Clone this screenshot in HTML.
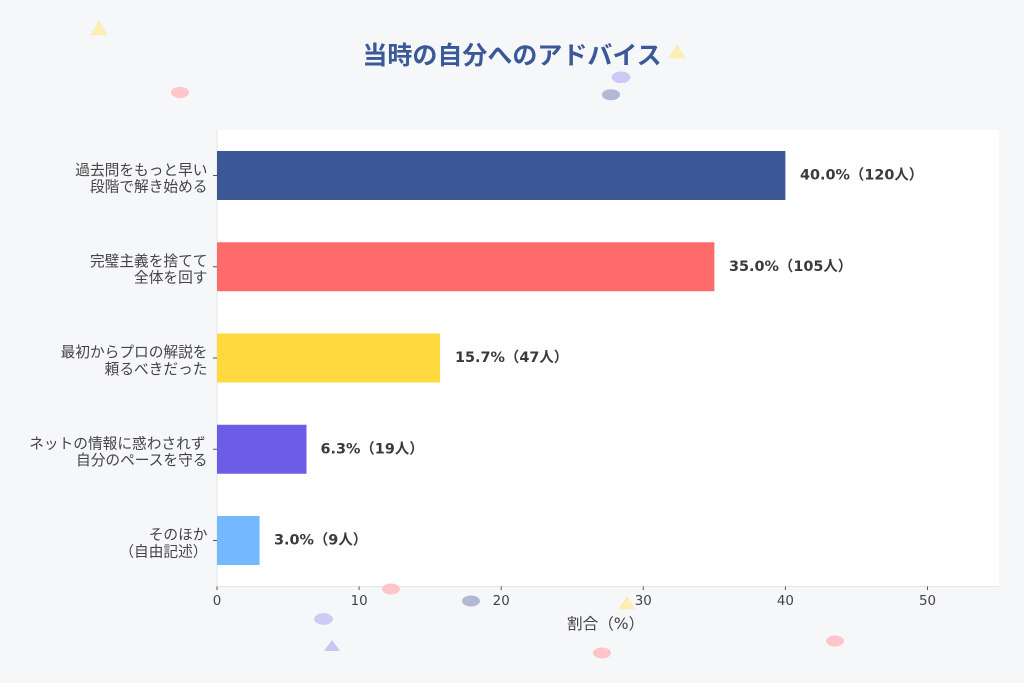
<!DOCTYPE html>
<html><head><meta charset="utf-8"><style>
html,body{margin:0;padding:0;background:#f6f7f8;}
svg{display:block;}
</style></head><body>
<svg width="1024" height="683" viewBox="0 0 1024 683" xmlns="http://www.w3.org/2000/svg">
<rect x="0" y="0" width="1024" height="683" fill="#f6f7f8"/>
<!-- plot area -->
<rect x="217" y="130" width="782" height="456" fill="#ffffff"/>
<line x1="217" y1="130" x2="217" y2="586.5" stroke="#e2e4e8" stroke-width="1"/>
<line x1="217" y1="586.5" x2="999" y2="586.5" stroke="#e2e4e8" stroke-width="1"/>

<!-- title -->
<text x="512" y="56" text-anchor="middle" dominant-baseline="central" font-family="'Liberation Sans','Noto Sans CJK JP',sans-serif" font-weight="bold" font-size="25" fill="#3b5998">当時の自分へのアドバイス</text>

<!-- bars -->
<rect x="217" y="151" width="568.4" height="49" fill="#3b5796"/>
<rect x="217" y="242.25" width="497.4" height="49" fill="#ff6b6b"/>
<rect x="217" y="333.5" width="223.1" height="49" fill="#ffd93d"/>
<rect x="217" y="424.75" width="89.5" height="49" fill="#6c5ce7"/>
<rect x="217" y="516" width="42.6" height="49" fill="#74b9ff"/>

<!-- value labels -->
<g font-family="'DejaVu Sans','Noto Sans CJK JP',sans-serif" font-weight="bold" font-size="14.4" fill="#3a3a3a" dominant-baseline="central">
<text x="800" y="175.5">40.0%（120人）</text>
<text x="729" y="266.75">35.0%（105人）</text>
<text x="455" y="358">15.7%（47人）</text>
<text x="320.5" y="449.25">6.3%（19人）</text>
<text x="274" y="540.5">3.0%（9人）</text>
</g>

<!-- y ticks -->
<g stroke="#555" stroke-width="1">
<line x1="213" y1="175.5" x2="217" y2="175.5"/>
<line x1="213" y1="266.75" x2="217" y2="266.75"/>
<line x1="213" y1="358" x2="217" y2="358"/>
<line x1="213" y1="449.25" x2="217" y2="449.25"/>
<line x1="213" y1="540.5" x2="217" y2="540.5"/>
</g>
<g font-family="'DejaVu Sans','Noto Sans CJK JP',sans-serif" font-size="14.7" fill="#444" text-anchor="end" dominant-baseline="central">
<text x="207.5" y="170.3">過去問をもっと早い</text>
<text x="207.5" y="186.9">段階で解き始める</text>
<text x="207.5" y="261.5">完璧主義を捨てて</text>
<text x="207.5" y="278.1">全体を回す</text>
<text x="207.5" y="352.7">最初からプロの解説を</text>
<text x="207.5" y="369.3">頼るべきだった</text>
<text x="205.5" y="444">ネットの情報に惑わされず</text>
<text x="207.5" y="460.6">自分のペースを守る</text>
<text x="207.5" y="535.2">そのほか</text>
<text x="207.5" y="551.8">（自由記述）</text>
</g>

<!-- x ticks -->
<g stroke="#555" stroke-width="1">
<line x1="217" y1="586.5" x2="217" y2="590"/>
<line x1="359.1" y1="586.5" x2="359.1" y2="590"/>
<line x1="501.2" y1="586.5" x2="501.2" y2="590"/>
<line x1="643.3" y1="586.5" x2="643.3" y2="590"/>
<line x1="785.4" y1="586.5" x2="785.4" y2="590"/>
<line x1="927.5" y1="586.5" x2="927.5" y2="590"/>
</g>
<g font-family="'DejaVu Sans','Noto Sans CJK JP',sans-serif" font-size="13.4" fill="#444" text-anchor="middle" dominant-baseline="central">
<text x="217" y="601.7">0</text>
<text x="359.1" y="601.7">10</text>
<text x="501.2" y="601.7">20</text>
<text x="643.3" y="601.7">30</text>
<text x="785.4" y="601.7">40</text>
<text x="927.5" y="601.7">50</text>
</g>
<text x="567" y="624" dominant-baseline="central" font-family="'DejaVu Sans','Noto Sans CJK JP',sans-serif" font-size="15.6" fill="#444">割合（%）</text>

<!-- decorations -->
<polygon points="99,21 107,35 91,35" fill="#fdeeb3" stroke="#f3dc8a" stroke-width="0.6" stroke-dasharray="1,1.5"/>
<polygon points="677,45 685,58 669,58" fill="#fdeeb3" stroke="#f3dc8a" stroke-width="0.6" stroke-dasharray="1,1.5"/>
<ellipse cx="180" cy="92.5" rx="9" ry="5.5" fill="#ffc5c8"/>
<ellipse cx="621" cy="77.3" rx="9" ry="5.5" fill="#cdcaf5" stroke="#a9a3ee" stroke-width="0.6" stroke-dasharray="1,1.5"/>
<ellipse cx="611" cy="94.7" rx="9" ry="5.5" fill="#b1b9d5"/>
<ellipse cx="391" cy="589" rx="9" ry="5.5" fill="#ffc5c8"/>
<ellipse cx="471" cy="601" rx="9" ry="5.5" fill="#b1b9d5"/>
<polygon points="627,597 635,609 619,609" fill="#fdeeb3" stroke="#f3dc8a" stroke-width="0.6" stroke-dasharray="1,1.5"/>
<ellipse cx="323.5" cy="619" rx="9" ry="5.5" fill="#cdcaf5" stroke="#a9a3ee" stroke-width="0.6" stroke-dasharray="1,1.5"/>
<polygon points="332,640 340,651 324,651" fill="#c9c6f3"/>
<ellipse cx="602" cy="653" rx="9" ry="5.5" fill="#ffc5c8"/>
<ellipse cx="835" cy="641" rx="9" ry="5.5" fill="#ffc5c8"/>
</svg>
</body></html>
